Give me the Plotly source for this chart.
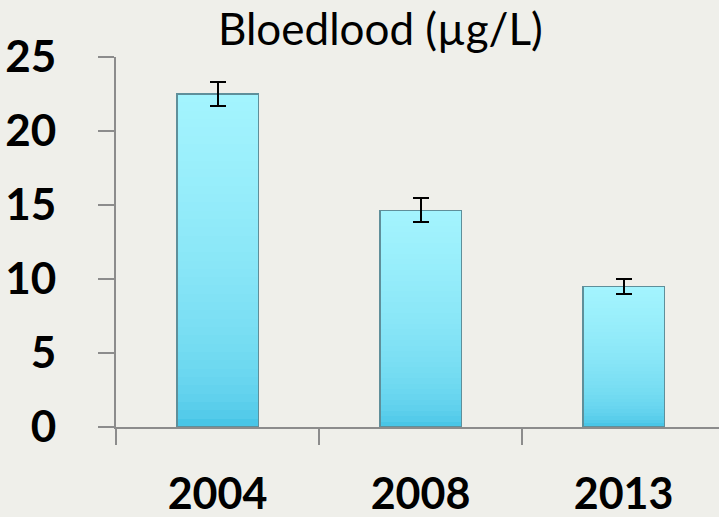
import plotly.graph_objects as go

years = ["2004", "2008", "2013"]
values = [22.5, 14.65, 9.48]
errors = [0.8, 0.8, 0.5]
y_ticks = [0, 5, 10, 15, 20, 25]
title_text = "Bloedlood (µg/L)"

N = 40
bottom_rgb = (54, 188, 226)
top_rgb = (164, 244, 254)


def mix(f):
    g = f ** 0.4
    return "rgb(%d,%d,%d)" % tuple(round(b + (t - b) * g) for b, t in zip(bottom_rgb, top_rgb))


fig = go.Figure()
for k in range(N):
    f = (k + 0.5) / N
    fig.add_trace(go.Bar(
        x=years, y=[v / N for v in values],
        marker=dict(color=mix(f), line=dict(width=0)),
        showlegend=False, hoverinfo="skip",
    ))

fig.add_trace(go.Bar(
    x=years, y=values, xaxis="x2",
    marker=dict(color="rgba(0,0,0,0)", line=dict(color="#5f8f9a", width=1.2)),
    error_y=dict(type="data", array=errors, color="black", thickness=2, width=8),
    showlegend=False,
))

font = "Lato, 'DejaVu Sans', sans-serif"
fig.update_layout(
    width=719, height=517,
    margin=dict(l=116, r=0, t=57, b=90, autoexpand=False),
    paper_bgcolor="#efefea", plot_bgcolor="#efefea",
    barmode="stack", bargap=0.6,
    title=dict(text=title_text, x=0.529, xref="container", xanchor="center",
               y=1 - 30 / 517, yref="container", yanchor="middle",
               font=dict(family=font, size=44, color="black")),
    xaxis=dict(type="category", range=[-0.5, 2.47], tickson="boundaries",
               ticks="outside", ticklen=16, tickwidth=2, tickcolor="#8c8c8c",
               showline=True, linecolor="#8c8c8c", linewidth=2, showgrid=False,
               ticklabelstandoff=28, automargin=False,
               tickfont=dict(family=font, size=43, color="black", weight="bold")),
    xaxis2=dict(type="category", range=[-0.5, 2.47], overlaying="x", visible=False),
    yaxis=dict(range=[0, 25], tickvals=y_ticks, ticks="outside", ticklen=16,
               tickwidth=2, tickcolor="#8c8c8c", showline=True, linecolor="#8c8c8c",
               linewidth=2, showgrid=False, zeroline=False, ticklabelstandoff=33,
               automargin=False,
               tickfont=dict(family=font, size=44, color="black", weight="bold")),
)

fig.write_html(
    "out.html",
    config={"displayModeBar": False},
    post_script="document.body.style.margin='0';document.body.style.background='#efefea';",
)
